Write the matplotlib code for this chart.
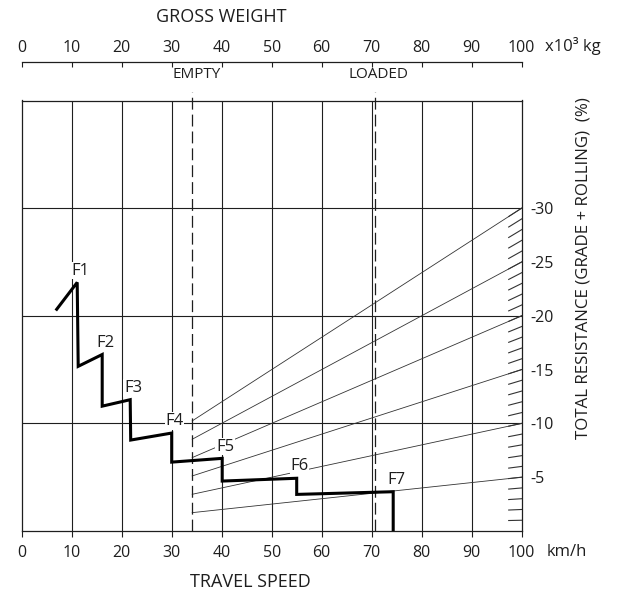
import numpy as np
import matplotlib
matplotlib.use("Agg")
from matplotlib import pyplot as plt

plt.rcParams['font.family'] = ['Open Sans', 'DejaVu Sans']

# ---- data ----
speed_ticks = [0, 10, 20, 30, 40, 50, 60, 70, 80, 90, 100]
weight_ticks = [0, 10, 20, 30, 40, 50, 60, 70, 80, 90, 100]
resist_ticks = [5, 10, 15, 20, 25, 30]
resist_minor = list(range(1, 31))

# rimpull curve (speed km/h, value in %)
curve_speed = [7.0, 11.1, 11.3, 16.1, 16.1, 21.7, 21.8, 30.0, 30.0, 40.1, 40.1, 55.0, 55.0, 74.3, 74.3]
curve_value = [20.6, 23.1, 15.3, 16.4, 11.6, 12.2, 8.45, 9.1, 6.4, 6.75, 4.64, 4.9, 3.4, 3.65, 0.0]
gear_names = ['F1', 'F2', 'F3', 'F4', 'F5', 'F6', 'F7']
gear_peak_idx = [1, 3, 5, 7, 9, 11, 13]

empty_weight = 34.1
loaded_weight = 70.7

ink = '#1e1e1e'

fig = plt.figure(figsize=(6.25, 5.98), dpi=100)
ax = fig.add_axes([21.7 / 625, 1 - 531 / 598, 500 / 625, 430.5 / 598])
ax.set_xlim(0, 100)
ax.set_ylim(0, 40)

for s in ax.spines.values():
    s.set_color(ink)
    s.set_linewidth(0.9)

# grid
for x in range(10, 100, 10):
    ax.axvline(x, color=ink, lw=0.8, zorder=1)
for y in [10, 20, 30]:
    ax.axhline(y, color=ink, lw=0.8, zorder=1)

# resistance rays from the origin, drawn from empty weight on
for k in resist_ticks:
    ax.plot([empty_weight, 100], [k * empty_weight / 100, k], color='#333333', lw=0.6, zorder=2)
# short scale marks on the right edge
for k in resist_minor:
    ax.plot([97.4, 100], [k * 0.974, k], color='#333333', lw=0.8, zorder=2)

# empty / loaded weight lines
for w in [empty_weight, loaded_weight]:
    ax.plot([w, w], [0, 40.8], color=ink, lw=0.9, linestyle=(0, (9.5, 4)), clip_on=False, zorder=3)

# rimpull curve
ax.plot(curve_speed, curve_value, color='black', lw=2.2, zorder=5, solid_joinstyle='miter')
for name, i in zip(gear_names, gear_peak_idx):
    ax.annotate(name, (curve_speed[i], curve_value[i]), xytext=(2, 8.5), textcoords='offset points',
                ha='center', va='center', fontsize=12, color=ink, zorder=6,
                bbox=dict(boxstyle='square,pad=0.05', fc='white', ec='none'))

# bottom axis: travel speed
ax.set_xticks(speed_ticks)
ax.set_xticklabels([str(v) for v in speed_ticks])
ax.tick_params(axis='x', direction='out', length=4, width=0.8, color=ink, labelsize=11.5,
               labelcolor=ink, pad=6)

# right axis: total resistance
ax.yaxis.tick_right()
ax.set_yticks(resist_ticks)
ax.set_yticklabels(['-' + str(v) for v in resist_ticks])
ax.tick_params(axis='y', length=0, labelsize=11.5, labelcolor=ink, pad=6)

# top axis: gross weight
top = ax.twiny()
top.set_xlim(0, 100)
top.set_xticks(weight_ticks)
top.set_xticklabels([str(v) for v in weight_ticks])
top.spines['top'].set_position(('outward', 27.7))
for side in ['left', 'right', 'bottom']:
    top.spines[side].set_visible(False)
top.spines['top'].set_color(ink)
top.spines['top'].set_linewidth(0.9)
top.tick_params(axis='x', direction='in', length=3.5, width=0.8, color=ink, labelsize=11.5,
                labelcolor=ink, pad=4)

# texts
fig.text(221 / 625, 1 - 17 / 598, 'GROSS WEIGHT', ha='center', va='center', fontsize=13, color=ink)
fig.text(545 / 625, 1 - 46 / 598, 'x10³ kg', ha='left', va='center', fontsize=12, color=ink)
fig.text(196.7 / 625, 1 - 74 / 598, 'EMPTY', ha='center', va='center', fontsize=11, color=ink)
fig.text(378 / 625, 1 - 74 / 598, 'LOADED', ha='center', va='center', fontsize=11, color=ink)
fig.text(547 / 625, 1 - 552 / 598, 'km/h', ha='left', va='center', fontsize=12, color=ink)
fig.text(250 / 625, 1 - 582 / 598, 'TRAVEL SPEED', ha='center', va='center', fontsize=13, color=ink)
fig.text(583 / 625, 1 - 268 / 598, 'TOTAL RESISTANCE (GRADE + ROLLING)  (%)', rotation=90,
         ha='center', va='center', fontsize=12.2, color=ink)

fig.savefig('out.png', dpi=100, facecolor='white')
